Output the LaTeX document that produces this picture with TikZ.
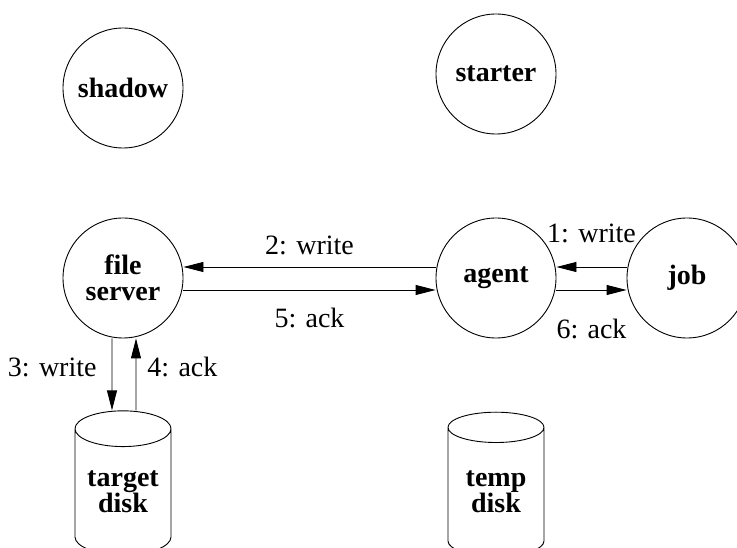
\documentclass[tikz,border=0pt]{standalone}
\usepackage{fontspec}
\setmainfont{Liberation Serif}
\usetikzlibrary{arrows.meta,shapes.geometric}

\begin{document}
\begin{tikzpicture}
[->,>={Triangle[length=20pt,width=10pt]},x=1pt,y=-1pt,line width=0.9pt,
 proc/.style={circle,draw,minimum size=120pt,inner sep=0pt,align=center,
   font=\bfseries\fontsize{28}{26}\selectfont},
 disk/.style={cylinder,shape border rotate=90,draw,aspect=0.5,
   minimum width=96pt,minimum height=144pt,inner sep=0pt,align=center,
   font=\bfseries\fontsize{28}{26}\selectfont},
 lbl/.style={inner sep=0pt,font=\fontsize{28}{24}\selectfont}]
\useasboundingbox (0,0) rectangle (737,548);
\clip (0,0) rectangle (737,548);
\node[proc] (fs) at (123,278) {file\\server};
\node[proc] (agent) [right of=fs,node distance=373pt] {agent};
\node[proc] (job) [right of=agent,node distance=191pt] {job};
\node[proc] (shadow) [above of=fs,node distance=190pt] {shadow};
\node[proc] (starter) [above of=agent,node distance=204pt] {starter};
\node[disk] (tdisk) [below of=fs,node distance=214pt] {target\\disk};
\node[disk] (mdisk) [below of=agent,node distance=214pt] {temp\\disk};

\path
([yshift=11pt]job.west) edge node[lbl,above=24pt] {1: write} ([yshift=11pt]agent.east)
([yshift=11pt]agent.west) edge node[lbl,above=12pt] {2: write} ([yshift=11pt]fs.east)
([xshift=-11pt]fs.south) edge node[lbl,left=15pt,pos=0.4] {3: write} ([xshift=-11pt]tdisk.north)
([xshift=13pt]tdisk.north) edge node[lbl,right=11pt,pos=0.6] {4: ack} ([xshift=13pt]fs.south)
([yshift=-12pt]fs.east) edge node[lbl,below=18pt] {5: ack} ([yshift=-12pt]agent.west)
([yshift=-12pt]agent.east) edge node[lbl,below=29pt] {6: ack} ([yshift=-12pt]job.west)
;\end{tikzpicture}
\end{document}
